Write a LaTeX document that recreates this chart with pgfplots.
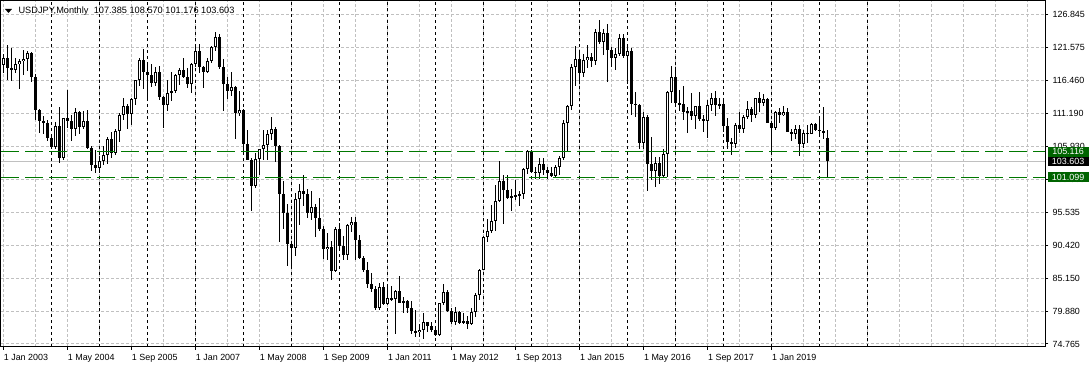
\documentclass[border=0pt]{standalone}
\usepackage{fontspec}
\setmainfont{Liberation Sans}
\usepackage{pgfplots}
\usepackage{pgfplotstable}
\pgfplotsset{compat=1.18}
\definecolor{mtgreen}{RGB}{0,100,0}
\definecolor{mtline}{RGB}{0,120,0}
\definecolor{mtgrid}{RGB}{192,192,192}
\pgfplotstableread{
m O H L C
0 118.8 120.6 117.5 120.0
1 120.0 122.0 116.5 118.3
2 118.3 121.5 116.3 118.0
3 118.0 120.0 117.5 119.0
4 119.0 119.8 115.1 119.4
5 119.4 121.2 117.3 119.8
6 119.8 121.0 117.9 120.7
7 120.7 120.9 116.2 117.0
8 117.0 117.4 110.2 111.7
9 111.7 111.9 108.1 110.0
10 110.0 110.8 107.9 109.6
11 109.6 110.2 106.8 107.3
12 107.3 108.0 105.6 105.9
13 105.9 109.8 105.5 109.2
14 109.2 112.2 103.4 104.2
15 104.2 110.5 103.8 110.4
16 110.4 114.9 108.9 110.0
17 110.0 111.0 106.9 108.7
18 108.7 112.0 107.6 111.4
19 111.4 111.6 108.0 109.1
20 109.1 111.5 108.8 110.0
21 110.0 111.8 105.5 105.8
22 105.8 106.1 102.1 103.1
23 103.1 105.4 101.8 102.6
24 102.6 104.4 101.7 103.6
25 103.6 106.0 103.0 104.6
26 104.6 107.5 103.2 107.1
27 107.1 108.2 104.2 104.9
28 104.9 108.7 104.6 108.4
29 108.4 111.2 106.7 110.9
30 110.9 113.7 110.1 112.4
31 112.4 112.6 108.8 111.1
32 111.1 113.6 109.3 113.5
33 113.5 116.4 112.5 116.4
34 116.4 120.0 115.6 119.7
35 119.7 121.4 115.0 117.8
36 117.8 118.9 113.4 117.2
37 117.2 119.0 115.4 116.0
38 116.0 118.6 115.6 117.8
39 117.8 118.7 113.3 113.8
40 113.8 114.0 108.9 112.5
41 112.5 116.4 111.6 114.4
42 114.4 117.8 113.2 114.7
43 114.7 117.4 114.4 117.3
44 117.3 118.4 115.7 118.0
45 118.0 119.9 116.8 116.9
46 116.9 118.4 115.2 115.8
47 115.8 119.1 114.4 119.0
48 119.0 122.2 118.5 121.0
49 121.0 122.2 117.5 118.5
50 118.5 118.7 115.2 117.8
51 117.8 120.0 117.6 119.5
52 119.5 121.9 119.2 121.7
53 121.7 124.1 121.1 123.2
54 123.2 123.7 118.2 118.6
55 118.6 119.8 111.6 115.8
56 115.8 117.0 113.4 114.8
57 114.8 117.7 113.9 115.3
58 115.3 115.5 107.2 111.2
59 111.2 114.7 110.8 111.7
60 111.7 111.9 105.0 106.4
61 106.4 108.6 103.8 103.9
62 103.9 104.1 95.8 99.7
63 99.7 105.0 99.4 104.0
64 104.0 105.6 101.4 105.5
65 105.5 108.6 103.9 106.2
66 106.2 108.6 103.8 107.9
67 107.9 110.7 107.0 108.8
68 108.8 109.0 103.5 106.0
69 106.0 106.2 90.9 98.5
70 98.5 100.5 92.9 95.5
71 95.5 96.9 87.1 90.6
72 90.6 91.0 87.1 89.9
73 89.9 98.6 88.7 97.6
74 97.6 100.0 93.5 98.9
75 98.9 101.5 96.5 98.5
76 98.5 99.3 94.6 95.4
77 95.4 98.9 94.4 96.4
78 96.4 96.9 91.7 94.7
79 94.7 97.8 92.6 93.0
80 93.0 93.4 88.2 89.7
81 89.7 92.3 88.0 90.1
82 90.1 91.0 84.8 86.3
83 86.3 93.2 86.1 93.0
84 93.0 93.8 89.7 90.3
85 90.3 91.8 88.1 88.9
86 88.9 93.7 88.1 93.5
87 93.5 94.8 92.5 94.0
88 94.0 94.9 88.0 91.2
89 91.2 92.0 88.2 88.4
90 88.4 88.6 86.2 86.4
91 86.4 87.7 83.6 84.2
92 84.2 86.0 82.9 83.5
93 83.5 83.9 80.2 80.4
94 80.4 84.4 80.2 83.7
95 83.7 84.5 80.9 81.1
96 81.1 83.7 81.0 82.1
97 82.1 84.0 81.5 81.8
98 81.8 83.3 76.3 83.1
99 83.1 85.5 81.2 81.2
100 81.2 82.2 79.6 81.5
101 81.5 81.7 79.7 80.5
102 80.5 81.5 76.3 76.8
103 76.8 80.2 75.9 76.6
104 76.6 77.9 75.9 77.0
105 77.0 79.6 75.6 78.2
106 78.2 78.3 76.6 77.6
107 77.6 78.3 76.6 76.9
108 76.9 77.2 76.0 76.2
109 76.2 81.3 76.1 81.2
110 81.2 84.2 80.9 82.9
111 82.9 83.3 79.8 80.0
112 80.0 80.4 78.0 78.3
113 78.3 80.6 77.7 79.8
114 79.8 80.0 77.9 78.1
115 78.1 79.6 77.9 78.4
116 78.4 79.2 77.1 78.0
117 78.0 80.4 77.8 79.8
118 79.8 82.8 79.1 82.5
119 82.5 86.6 81.7 86.5
120 86.5 91.8 86.5 91.7
121 91.7 94.5 90.8 92.6
122 92.6 96.7 92.3 94.2
123 94.2 99.9 92.6 97.4
124 97.4 103.7 97.2 100.5
125 100.5 101.5 93.8 99.1
126 99.1 101.5 97.6 97.9
127 97.9 99.2 95.8 98.1
128 98.1 100.6 97.5 98.3
129 98.3 99.0 96.6 98.4
130 98.4 102.5 97.6 102.4
131 102.4 105.4 101.6 105.3
132 105.3 105.4 101.8 102.0
133 102.0 102.8 100.8 101.8
134 101.8 104.1 100.8 103.2
135 103.2 104.1 101.4 102.2
136 102.2 102.8 100.8 101.8
137 101.8 102.8 101.1 101.3
138 101.3 103.1 101.1 102.8
139 102.8 104.5 101.5 104.1
140 104.1 110.1 103.8 109.6
141 109.6 112.5 105.2 112.3
142 112.3 119.0 111.8 118.6
143 118.6 121.8 115.6 119.8
144 119.8 120.8 115.8 117.5
145 117.5 120.5 116.9 119.6
146 119.6 122.0 118.3 120.1
147 120.1 120.8 118.5 119.4
148 119.4 124.5 118.9 124.1
149 124.1 125.9 122.1 122.4
150 122.4 124.6 120.4 123.9
151 123.9 125.3 116.2 121.2
152 121.2 121.7 118.6 119.9
153 119.9 121.5 118.1 120.6
154 120.6 123.8 120.3 123.1
155 123.1 123.7 119.9 120.2
156 120.2 121.7 115.9 121.1
157 121.1 121.5 110.9 112.7
158 112.7 114.6 110.7 112.6
159 112.6 112.7 105.5 106.5
160 106.5 111.4 105.5 110.7
161 110.7 111.0 99.0 103.2
162 103.2 107.5 100.7 102.1
163 102.1 104.3 99.5 103.4
164 103.4 104.3 100.1 101.3
165 101.3 105.5 101.2 104.8
166 104.8 114.8 101.2 114.5
167 114.5 118.7 112.9 117.0
168 117.0 118.6 112.5 112.8
169 112.8 114.9 111.6 112.7
170 112.7 115.5 110.1 111.4
171 111.4 112.2 108.1 111.5
172 111.5 114.4 110.2 110.8
173 110.8 112.4 108.8 112.4
174 112.4 114.5 110.0 110.3
175 110.3 111.0 108.3 110.0
176 110.0 113.3 107.3 112.5
177 112.5 114.4 111.6 113.6
178 113.6 114.7 110.8 112.5
179 112.5 113.7 111.9 112.7
180 112.7 113.4 108.3 109.2
181 109.2 110.5 105.6 106.7
182 106.7 107.3 104.6 106.3
183 106.3 109.6 105.7 109.3
184 109.3 111.4 108.1 108.8
185 108.8 110.9 108.1 110.7
186 110.7 113.2 110.3 111.9
187 111.9 112.2 109.8 111.0
188 111.0 113.7 110.4 113.7
189 113.7 114.6 111.4 112.9
190 112.9 114.2 112.3 113.5
191 113.5 113.7 109.6 109.7
192 109.7 110.0 104.7 108.9
193 108.9 111.5 108.5 111.4
194 111.4 112.1 109.7 110.9
195 110.9 112.4 110.8 111.4
196 111.4 112.0 108.3 108.3
197 108.3 108.8 106.8 107.9
198 107.9 109.3 107.2 108.7
199 108.7 109.3 104.5 106.3
200 106.3 108.5 105.7 108.1
201 108.1 109.3 106.5 108.0
202 108.0 109.7 107.9 109.5
203 109.5 109.7 108.4 108.6
204 108.6 110.3 107.6 108.4
205 108.4 112.2 107.2 108.2
206 107.385 108.570 101.176 103.603
}\ohlc
\begin{document}
\begin{tikzpicture}
\path[use as bounding box] (-0.75pt,-15pt) rectangle (817.5pt,260.25pt);
\begin{axis}[
  name=main,
  at={(0,0)}, anchor=south west, scale only axis,
  width=783pt, height=259.5pt,
  xmin=-0.65, xmax=260.35, ymin=74.29, ymax=128.95,
  clip=false,
  axis line style={black, line width=0.75pt},
  tick align=outside,
  xtick pos=left, ytick pos=right, yticklabel pos=right,
  major tick length=2.25pt, minor tick length=0pt,
  tick style={black, line width=0.75pt},
  xtick={0,16,32,48,64,80,96,112,128,144,160,176,192},
  xticklabels={1 Jan 2003,1 May 2004,1 Sep 2005,1 Jan 2007,1 May 2008,1 Sep 2009,1 Jan 2011,1 May 2012,1 Sep 2013,1 Jan 2015,1 May 2016,1 Sep 2017,1 Jan 2019},
  minor xtick={8,24,40,56,72,88,104,120,136,152,168,184,200,208,216,224,232,240,248,256},
  ytick={74.765,79.973,85.181,90.389,95.597,100.805,106.013,111.221,116.429,121.637,126.845},
  yticklabels={74.765,79.880,85.150,90.420,95.535,100.805,105.930,111.190,116.460,121.575,126.845},
  xmajorgrids=true, ymajorgrids=true, xminorgrids=true,
  major grid style={mtgrid, line width=0.75pt, dash pattern=on 2.25pt off 1.5pt},
  minor grid style={mtgrid, line width=0.75pt, dash pattern=on 2.25pt off 1.5pt},
  extra x ticks={12,24,36,48,60,72,84,96,108,120,132,144,156,168,180,192,204,216},
  extra x tick labels={},
  extra x tick style={grid=major, major tick length=0pt,
    major grid style={black, line width=0.75pt, dash pattern=on 2.25pt off 2.25pt}},
  ticklabel style={font=\fontsize{6.7}{7}\selectfont},
  xticklabel style={anchor=north west, inner sep=0pt},
  xticklabel shift=3pt,
  yticklabel style={anchor=west, inner sep=0pt},
  yticklabel shift=3pt,
]
% bid line
\addplot[mtgrid, line width=0.75pt, forget plot] coordinates {(-0.65,103.603) (260.35,103.603)};
% wicks
\addplot[draw=none, mark=none, forget plot,
  error bars/.cd, y dir=both, y explicit, error mark=none,
  error bar style={draw=black, solid, line width=0.75pt}]
  table[x=m, y expr={(\thisrow{H}+\thisrow{L})/2}, y error expr={(\thisrow{H}-\thisrow{L})/2}] {\ohlc};
% bodies (all, black)
\addplot[draw=none, mark=none, forget plot,
  error bars/.cd, y dir=both, y explicit, error mark=none,
  error bar style={draw=black, solid, line width=2.25pt}]
  table[x=m, y expr={(\thisrow{O}+\thisrow{C})/2}, y error expr={max(abs(\thisrow{O}-\thisrow{C}),0.16)/2}] {\ohlc};
% bullish interiors (white)
\addplot[draw=none, mark=none, forget plot, restrict y to domain=50:200,
  error bars/.cd, y dir=both, y explicit, error mark=none,
  error bar style={draw=white, solid, line width=0.75pt}]
  table[x=m, y expr={\thisrow{C}>\thisrow{O} ? (\thisrow{O}+\thisrow{C})/2 : -100}, y error expr={max(abs(\thisrow{O}-\thisrow{C})/2-0.158,0)}] {\ohlc};
% level lines
\addplot[mtline, line width=0.85pt, dash pattern=on 13.5pt off 4.5pt, forget plot] coordinates {(-0.65,105.116) (260.35,105.116)};
\addplot[mtline, line width=0.85pt, dash pattern=on 13.5pt off 4.5pt, forget plot] coordinates {(-0.65,101.099) (260.35,101.099)};
% price tags
\node[anchor=west, xshift=1.5pt, fill=mtgreen, text=white, inner sep=0pt, minimum width=30.75pt, minimum height=8pt, font=\fontsize{6.7}{7}\selectfont] at (axis cs:260.35,105.116) {105.116};
\node[anchor=west, xshift=1.5pt, fill=black, text=white, inner sep=0pt, minimum width=30.75pt, minimum height=7pt, font=\fontsize{6.7}{7}\selectfont] at (axis cs:260.35,103.603) {103.603};
\node[anchor=west, xshift=1.5pt, fill=mtgreen, text=white, inner sep=0pt, minimum width=30.75pt, minimum height=7.5pt, font=\fontsize{6.7}{7}\selectfont] at (axis cs:260.35,101.099) {101.099};
\end{axis}
\fill[black] ([shift={(3pt,-6pt)}]main.north west) -- ([shift={(8.25pt,-6pt)}]main.north west) -- ([shift={(5.625pt,-9pt)}]main.north west) -- cycle;
\node[anchor=base west, inner sep=0pt, font=\fontsize{6.9}{8}\selectfont] at ([shift={(13pt,-9.75pt)}]main.north west) {USDJPY,Monthly\hspace{4pt}107.385 108.570 101.176 103.603};
\end{tikzpicture}
\end{document}
